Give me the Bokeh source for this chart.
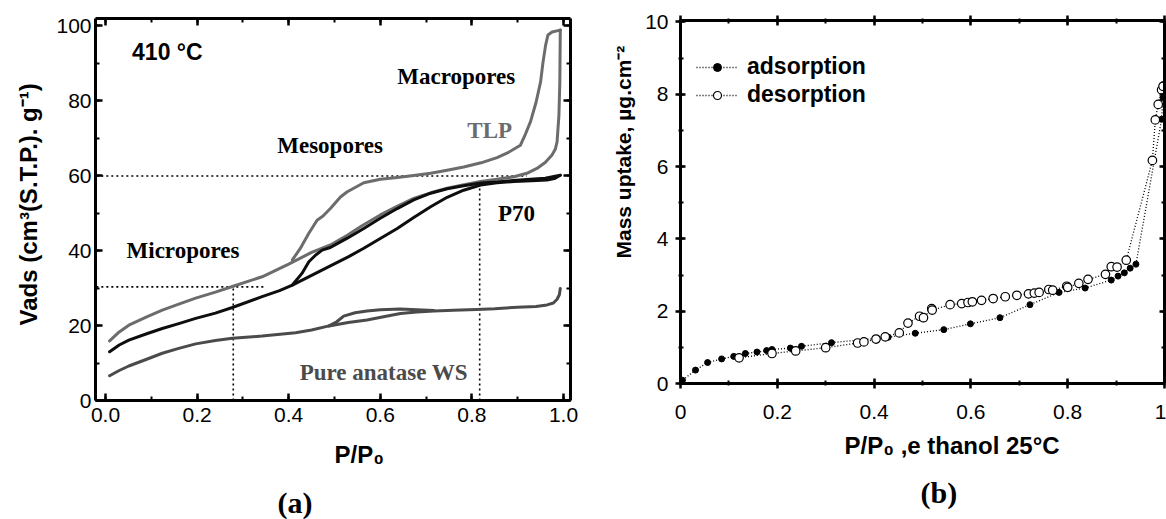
from bokeh.plotting import figure
from bokeh.models import LinearAxis, SingleIntervalTicker, Label, Legend, LegendItem, Range1d, Title
from bokeh.layouts import row
from bokeh.embed import file_html
from bokeh.resources import INLINE

# ---------------- Panel (a): N2 isotherms at 410 °C ----------------
tlp_ads_p = [0.009, 0.03, 0.051, 0.09, 0.124, 0.16, 0.197, 0.24, 0.277, 0.342, 0.40, 0.45, 0.491, 0.528,
             0.56, 0.60, 0.64, 0.673, 0.71, 0.746, 0.78, 0.819, 0.855, 0.892, 0.92, 0.942, 0.96, 0.975,
             0.982, 0.986, 0.99, 0.992, 0.993]
tlp_ads_v = [15.9, 18.3, 20.1, 22.3, 24.1, 25.7, 27.3, 28.9, 30.4, 33.0, 36.4, 39.5, 41.5, 44.1,
             46.6, 49.5, 52.0, 53.9, 55.4, 56.6, 57.5, 58.4, 59.0, 59.7, 60.6, 61.9, 63.5, 65.5,
             67.0, 69.0, 76.0, 85.0, 98.8]
tlp_des_p = [0.993, 0.975, 0.966, 0.961, 0.955, 0.95, 0.94, 0.928, 0.915, 0.906, 0.88, 0.855, 0.82,
             0.782, 0.746, 0.71, 0.673, 0.637, 0.60, 0.564, 0.528, 0.513, 0.491, 0.475, 0.462, 0.444,
             0.425, 0.408]
tlp_des_v = [98.8, 98.3, 97.5, 94.8, 90.0, 85.0, 79.5, 74.4, 70.5, 68.1, 66.2, 64.8, 63.4,
             62.3, 61.4, 60.6, 60.0, 59.5, 59.0, 58.1, 55.7, 54.3, 51.2, 49.2, 48.1, 44.6,
             40.5, 37.5]

p70_ads_p = [0.009, 0.03, 0.051, 0.09, 0.124, 0.16, 0.197, 0.24, 0.277, 0.342, 0.38, 0.408, 0.45, 0.491,
             0.53, 0.564, 0.60, 0.637, 0.673, 0.71, 0.746, 0.782, 0.819, 0.855, 0.892, 0.93, 0.964,
             0.98, 0.993]
p70_ads_v = [13.0, 14.8, 16.1, 17.8, 19.2, 20.5, 21.9, 23.3, 24.8, 27.7, 29.3, 30.8, 33.4, 35.9,
             38.3, 40.6, 43.2, 45.9, 48.8, 51.7, 54.2, 56.1, 57.5, 58.1, 58.4, 58.6, 58.8,
             59.2, 60.1]
p70_des_p = [0.993, 0.96, 0.928, 0.89, 0.855, 0.82, 0.782, 0.746, 0.71, 0.673, 0.637, 0.60, 0.564,
             0.528, 0.513, 0.491, 0.473, 0.459, 0.444, 0.429, 0.408]
p70_des_v = [60.1, 59.3, 59.0, 58.7, 58.3, 58.0, 57.3, 56.5, 55.3, 53.5, 51.2, 48.6, 45.9,
             43.3, 42.3, 40.8, 40.1, 38.8, 37.0, 33.9, 30.8]

ws_ads_p = [0.009, 0.03, 0.051, 0.09, 0.124, 0.16, 0.197, 0.24, 0.277, 0.342, 0.415, 0.45, 0.488, 0.53,
            0.571, 0.61, 0.644, 0.68, 0.717, 0.76, 0.81, 0.85, 0.899, 0.94, 0.964, 0.978, 0.986,
            0.991, 0.993]
ws_ads_v = [6.6, 8.0, 9.2, 11.0, 12.6, 13.9, 15.1, 16.0, 16.6, 17.2, 18.1, 18.8, 19.9, 20.8,
            21.5, 22.4, 23.2, 23.6, 23.9, 24.1, 24.3, 24.5, 24.9, 25.1, 25.5, 26.0, 27.0,
            28.2, 29.9]
ws_des_p = [0.717, 0.68, 0.644, 0.60, 0.571, 0.545, 0.52, 0.505, 0.488]
ws_des_v = [24.0, 24.2, 24.4, 24.2, 23.9, 23.4, 22.5, 21.0, 19.9]

# dotted guide lines
guide_h60_p = [-0.02, 0.92]
guide_h60_v = [59.9, 59.9]
guide_h30_p = [-0.02, 0.35]
guide_h30_v = [30.3, 30.3]
guide_v28_p = [0.279, 0.279]
guide_v28_v = [0.0, 30.3]
guide_v82_p = [0.817, 0.817]
guide_v82_v = [0.0, 56.7]

# ---------------- Panel (b): ethanol uptake, 25 °C ----------------
ads_p = [0.0, 0.004, 0.031, 0.056, 0.085, 0.110, 0.134, 0.158, 0.178, 0.189, 0.227, 0.250, 0.312,
         0.429, 0.485, 0.544, 0.599, 0.660, 0.722, 0.782, 0.836, 0.890, 0.904, 0.917, 0.929, 0.941,
         0.994, 0.997, 0.998]
ads_m = [0.05, 0.09, 0.37, 0.58, 0.68, 0.75, 0.83, 0.87, 0.91, 0.94, 0.98, 1.03, 1.13,
         1.28, 1.39, 1.49, 1.65, 1.82, 2.18, 2.52, 2.64, 2.86, 2.97, 3.06, 3.19, 3.30,
         7.31, 7.90, 8.27]
des_p = [0.121, 0.189, 0.238, 0.300, 0.366, 0.379, 0.404, 0.423, 0.452, 0.470, 0.494, 0.502, 0.519,
         0.520, 0.557, 0.581, 0.594, 0.603, 0.622, 0.646, 0.671, 0.695, 0.719, 0.731, 0.741, 0.761,
         0.769, 0.798, 0.800, 0.823, 0.842, 0.878, 0.890, 0.902, 0.921, 0.975, 0.981, 0.987,
         0.994, 0.997]
des_m = [0.71, 0.83, 0.90, 0.99, 1.12, 1.15, 1.23, 1.29, 1.40, 1.67, 1.86, 1.82, 2.07,
         2.03, 2.18, 2.21, 2.24, 2.26, 2.30, 2.35, 2.40, 2.44, 2.48, 2.50, 2.52, 2.60,
         2.58, 2.69, 2.66, 2.77, 2.88, 3.02, 3.23, 3.22, 3.41, 6.17, 7.29, 7.72,
         8.12, 8.22]

SANS = "Liberation Sans"
SERIF = "Liberation Serif"
TLP_COL = "#6c6c6c"
P70_COL = "#0e0e0e"
WS_COL = "#4b4b4b"


def add_axes(p, xt, yt, tick_in, tick_out, minor_in, minor_out, font_px, x_standoff, y_standoff,
             x_overrides=None):
    for loc in ("below", "above", "left", "right"):
        ticker = xt if loc in ("below", "above") else yt
        ax = LinearAxis(ticker=ticker)
        ax.axis_line_width = 3
        ax.axis_line_color = "black"
        ax.major_tick_line_width = 2.5
        ax.minor_tick_line_width = 2
        ax.major_tick_line_color = "black"
        ax.minor_tick_line_color = "black"
        ax.major_tick_in = tick_in
        ax.minor_tick_in = minor_in
        if loc in ("below", "left"):
            ax.major_tick_out = tick_out
            ax.minor_tick_out = minor_out
            ax.major_label_text_font = SANS
            ax.major_label_text_font_size = font_px
            ax.major_label_text_color = "black"
            ax.major_label_standoff = x_standoff if loc == "below" else y_standoff
            if loc == "below" and x_overrides:
                ax.major_label_overrides = x_overrides
        else:
            ax.major_tick_out = tick_out if loc == "above" else 0
            ax.minor_tick_out = minor_out if loc == "above" else 0
            ax.major_label_text_font_size = "1px"
            ax.major_label_text_color = None
            ax.major_label_standoff = 0
        p.add_layout(ax, loc)


def inlab(p, x, y, text, size, font=SERIF, color="black"):
    p.add_layout(Label(x=x, y=y, text=text, text_font=font, text_font_size=size,
                       text_font_style="bold", text_color=color, text_align="left",
                       text_baseline="middle"))


def side_title(p, side, text, size, offset, standoff, font=SANS):
    p.add_layout(Title(text=text, align="left", vertical_align="middle", offset=offset,
                       standoff=standoff, text_font=font, text_font_size=size,
                       text_font_style="bold", text_color="black"), side)


# ---------------- figure (a) ----------------
p1 = figure(width=583, height=519, x_range=Range1d(-0.0218, 1.0153), y_range=Range1d(0, 101.9),
            output_backend="svg", toolbar_location=None, x_axis_location=None, y_axis_location=None,
            min_border_left=95, min_border_right=13, min_border_top=18, min_border_bottom=119)
p1.frame_align = False
p1.xgrid.grid_line_color = None
p1.ygrid.grid_line_color = None
p1.outline_line_color = None
p1.background_fill_color = "white"
p1.border_fill_color = "white"

add_axes(p1, SingleIntervalTicker(interval=0.2, num_minor_ticks=2),
         SingleIntervalTicker(interval=20, num_minor_ticks=2),
         tick_in=7, tick_out=0, minor_in=4, minor_out=0, font_px="21px",
         x_standoff=7, y_standoff=4, x_overrides={0: "0.0", 1: "1.0"})

for gp, gv in ((guide_h60_p, guide_h60_v), (guide_h30_p, guide_h30_v),
               (guide_v28_p, guide_v28_v), (guide_v82_p, guide_v82_v)):
    p1.line(gp, gv, line_color="black", line_width=1.6, line_dash="2 3")

for xs, ys, col in ((ws_ads_p, ws_ads_v, WS_COL), (ws_des_p, ws_des_v, WS_COL),
                    (tlp_ads_p, tlp_ads_v, TLP_COL), (tlp_des_p, tlp_des_v, TLP_COL),
                    (p70_ads_p, p70_ads_v, P70_COL), (p70_des_p, p70_des_v, P70_COL)):
    p1.line(xs, ys, line_color=col, line_width=3, line_join="round", line_cap="round")

inlab(p1, 0.058, 93.0, "410 °C", "23px", font=SANS)
inlab(p1, 0.637, 86.3, "Macropores", "23px")
inlab(p1, 0.790, 72.1, "TLP", "23px", color=TLP_COL)
inlab(p1, 0.375, 67.9, "Mesopores", "23px")
inlab(p1, 0.857, 49.9, "P70", "23px")
inlab(p1, 0.046, 39.9, "Micropores", "23px")
inlab(p1, 0.424, 7.4, "Pure anatase WS", "23px", color=WS_COL)

side_title(p1, "below", "P/P\u2080", "24px", offset=239, standoff=31)
side_title(p1, "below", "(a)", "30px", offset=182, standoff=0, font=SERIF)
side_title(p1, "left", "Vads (cm\u00b3(S.T.P.). g\u207b\u00b9)", "24px", offset=75, standoff=22)

# ---------------- figure (b) ----------------
p2 = figure(width=583, height=519, x_range=Range1d(0, 1.0), y_range=Range1d(0, 10.04),
            output_backend="svg", toolbar_location=None, x_axis_location=None, y_axis_location=None,
            min_border_left=97, min_border_right=2, min_border_top=20, min_border_bottom=136)
p2.frame_align = False
p2.xgrid.grid_line_color = None
p2.ygrid.grid_line_color = None
p2.outline_line_color = None
p2.background_fill_color = "white"
p2.border_fill_color = "white"

add_axes(p2, SingleIntervalTicker(interval=0.2, num_minor_ticks=2),
         SingleIntervalTicker(interval=2, num_minor_ticks=2),
         tick_in=5, tick_out=5, minor_in=3, minor_out=2, font_px="21px",
         x_standoff=16, y_standoff=7, x_overrides={0: "0", 1: "1"})

ads_line = p2.line(ads_p, ads_m, line_color="black", line_width=1.3, line_dash="1 2")
ads_pts = p2.scatter(ads_p, ads_m, marker="circle", size=6, fill_color="black", line_color="black")
des_line = p2.line(des_p, des_m, line_color="black", line_width=1.3, line_dash="1 2")
des_pts = p2.scatter(des_p, des_m, marker="circle", size=8.5, fill_color="white", line_color="black",
                     line_width=1.2)


def legend_box(label, renderers, loc):
    return Legend(items=[LegendItem(label=label, renderers=renderers)],
                  location=loc, glyph_width=42, glyph_height=20, label_height=20,
                  label_standoff=9, spacing=0, padding=0, margin=0,
                  label_text_font=SANS, label_text_font_style="bold", label_text_font_size="23px",
                  label_text_color="black", background_fill_alpha=0, border_line_alpha=0)


p2.add_layout(legend_box("adsorption", [ads_line, ads_pts], (16, 303)))
p2.add_layout(legend_box("desorption", [des_line, des_pts], (16, 275)))

side_title(p2, "below", "P/P\u2080 ,e thanol 25°C", "24px", offset=164, standoff=18)
side_title(p2, "below", "(b)", "30px", offset=240, standoff=12, font=SERIF)
side_title(p2, "left", "Mass uptake, µg.cm\u207b\u00b2", "21px", offset=125, standoff=13)

layout = row(p1, p2)
open("out.html", "w").write(file_html(layout, INLINE))
